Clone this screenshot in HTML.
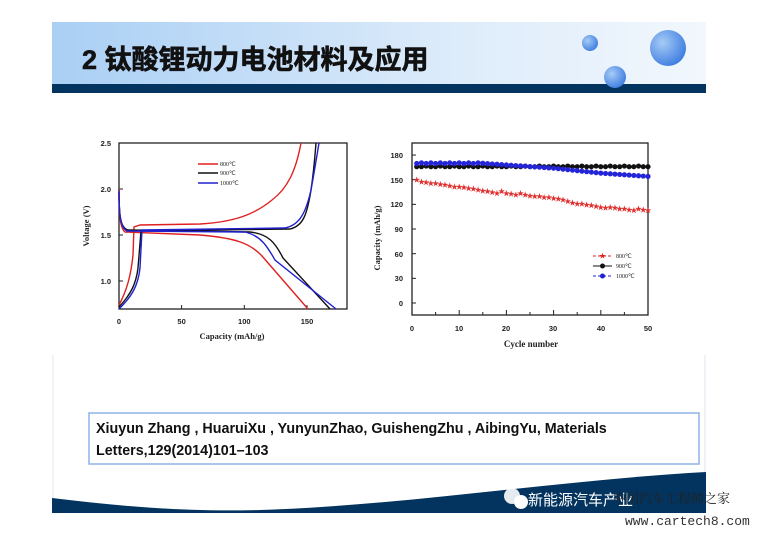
<!DOCTYPE html>
<html><head><meta charset="utf-8"><style>
body{margin:0;width:760px;height:535px;background:#fff;overflow:hidden;position:relative;font-family:"Liberation Sans","Noto Sans CJK SC",sans-serif}
</style></head><body>
<svg width="760" height="535" viewBox="0 0 760 535" xmlns="http://www.w3.org/2000/svg" style="position:absolute;left:0;top:0">
<defs>
<linearGradient id="hg" x1="0" x2="1" y1="0" y2="0"><stop offset="0" stop-color="#a9cff4"/><stop offset="0.6" stop-color="#dcebfa"/><stop offset="1" stop-color="#f2f7fd"/></linearGradient>
<radialGradient id="cg" cx="0.35" cy="0.35" r="0.7"><stop offset="0" stop-color="#a6cbf7"/><stop offset="1" stop-color="#3f7ee0"/></radialGradient>
</defs>
<rect x="52" y="22" width="654" height="63" fill="url(#hg)"/>
<rect x="52" y="84" width="654" height="9" fill="#03345f"/>
<circle cx="590" cy="43" r="8" fill="url(#cg)"/>
<circle cx="668" cy="48" r="18" fill="url(#cg)"/>
<circle cx="615" cy="77" r="11" fill="url(#cg)"/>
<text x="82" y="69" font-size="27" font-weight="bold" fill="#111" stroke="#111" stroke-width="0.6" font-family="Liberation Sans,Noto Sans CJK SC,sans-serif">2 钛酸锂动力电池材料及应用</text>
<line x1="53" y1="355" x2="53" y2="500" stroke="#e3e8ef"/>
<line x1="705" y1="355" x2="705" y2="480" stroke="#dfe6ef"/>

<!-- Left chart -->
<g font-family="Liberation Sans,sans-serif" font-weight="bold" font-size="7.5" fill="#222">
<rect x="119" y="143" width="228" height="166" fill="none" stroke="#222" stroke-width="1.3"/>
<g stroke="#222" stroke-width="1">
<line x1="119" y1="189" x2="123" y2="189"/><line x1="119" y1="235" x2="123" y2="235"/><line x1="119" y1="281" x2="123" y2="281"/>
<line x1="181.6" y1="309" x2="181.6" y2="305"/><line x1="244.3" y1="309" x2="244.3" y2="305"/><line x1="307" y1="309" x2="307" y2="305"/>
</g>
<text x="111" y="146" text-anchor="end">2.5</text><text x="111" y="192" text-anchor="end">2.0</text><text x="111" y="238" text-anchor="end">1.5</text><text x="111" y="284" text-anchor="end">1.0</text>
<text x="119" y="324" text-anchor="middle">0</text><text x="181.6" y="324" text-anchor="middle">50</text><text x="244.3" y="324" text-anchor="middle">100</text><text x="307" y="324" text-anchor="middle">150</text>
<text x="232" y="339" text-anchor="middle" font-family="Liberation Serif,serif" font-size="8.5">Capacity (mAh/g)</text>
<text transform="translate(89,226) rotate(-90)" text-anchor="middle" font-family="Liberation Serif,serif" font-size="8.5">Voltage (V)</text>
</g>
<g fill="none" stroke-width="1.4">
<path d="M119,189 C119,215 120,228 125,232 L200,235 C235,238 250,243 262,256 L308,309" stroke="#e02020"/>
<path d="M119,305 C127,290 131,275 133,255 L134,227 L140,225 L200,224 C235,222 255,214 272,200 C288,188 296,170 301,143" stroke="#e02020"/>
<path d="M119,192 C119,218 121,228 128,230 L250,232 C268,234 275,242 283,258 L330,309" stroke="#111"/>
<path d="M119,307 C130,295 136,285 138,268 L141,231 L290,229 C303,226 307,215 311,190 C314,170 315,155 316,143" stroke="#111"/>
<path d="M119,190 C119,218 121,228 127,231 L245,232 C262,236 268,248 275,260 L336,309" stroke="#2020d0"/>
<path d="M119,309 C131,297 138,287 140,268 L142,230 L285,228 C300,225 306,212 311,190 C315,168 317,155 319,143" stroke="#2020d0"/>
</g>
<g font-family="Liberation Serif,serif" font-size="6" fill="#222">
<line x1="198" y1="164" x2="218" y2="164" stroke="#e02020" stroke-width="1.4"/><text x="220" y="166">800℃</text>
<line x1="198" y1="173" x2="218" y2="173" stroke="#111" stroke-width="1.4"/><text x="220" y="175">900℃</text>
<line x1="198" y1="183" x2="218" y2="183" stroke="#2020d0" stroke-width="1.4"/><text x="220" y="185">1000℃</text>
</g>

<!-- Right chart -->
<g font-family="Liberation Sans,sans-serif" font-weight="bold" font-size="7.5" fill="#222">
<rect x="412" y="143" width="236" height="172" fill="none" stroke="#222" stroke-width="1.3"/>
<g id="rt" stroke="#222" stroke-width="1"></g>
<text x="403" y="158" text-anchor="end">180</text><text x="403" y="183" text-anchor="end">150</text><text x="403" y="207" text-anchor="end">120</text><text x="403" y="232" text-anchor="end">90</text><text x="403" y="257" text-anchor="end">60</text><text x="403" y="281" text-anchor="end">30</text><text x="403" y="306" text-anchor="end">0</text>
<text x="412" y="331" text-anchor="middle">0</text><text x="459" y="331" text-anchor="middle">10</text><text x="506" y="331" text-anchor="middle">20</text><text x="553" y="331" text-anchor="middle">30</text><text x="601" y="331" text-anchor="middle">40</text><text x="648" y="331" text-anchor="middle">50</text>
<text x="531" y="347" text-anchor="middle" font-family="Liberation Serif,serif" font-size="9">Cycle number</text>
<text transform="translate(380,238) rotate(-90)" text-anchor="middle" font-family="Liberation Serif,serif" font-size="8.5">Capacity (mAh/g)</text>
</g>
<g id="pts"></g>
<g font-family="Liberation Serif,serif" font-size="6" fill="#222">
<line x1="593" y1="256" x2="612" y2="256" stroke="#e02020" stroke-dasharray="3,2"/><text x="602.5" y="258.5" text-anchor="middle" fill="#e02020" font-size="8">★</text><text x="616" y="258">800℃</text>
<line x1="593" y1="266" x2="612" y2="266" stroke="#111"/><circle cx="602.5" cy="266" r="2.5" fill="#111"/><text x="616" y="268">900℃</text>
<line x1="593" y1="276" x2="612" y2="276" stroke="#2020d0" stroke-dasharray="3,2"/><circle cx="602.5" cy="276" r="2.5" fill="#2020d0"/><text x="616" y="278">1000℃</text>
</g>

<!-- citation -->
<rect x="89" y="413" width="610" height="51" fill="#fff" stroke="#8fb3e6" stroke-width="1.5"/>
<text x="96" y="433" font-size="14.3" font-weight="bold" fill="#111">Xiuyun Zhang , HuaruiXu , YunyunZhao, GuishengZhu , AibingYu, Materials</text>
<text x="96" y="455" font-size="14.3" font-weight="bold" fill="#111">Letters,129(2014)101–103</text>

<!-- bottom wave -->
<path d="M52,498 C120,506 180,512 260,510 C400,506 560,480 706,472 L706,513 L52,513 Z" fill="#03345f"/>
<circle cx="512" cy="496" r="8" fill="#fff" opacity="0.9"/>
<circle cx="521" cy="502" r="7" fill="#fff"/>
<text x="528" y="505" font-size="15" fill="#fff" font-family="Noto Sans CJK SC,sans-serif">新能源汽车产业</text>
<text x="613" y="503" font-size="13" fill="#222" font-family="Noto Serif CJK SC,serif">中国汽车工程师之家</text>
<text x="625" y="525" font-size="13" fill="#333" font-family="Liberation Mono,monospace">www.cartech8.com</text>
</svg>
<script>
(function(){
var ns="http://www.w3.org/2000/svg",g=document.getElementById('pts'),rt=document.getElementById('rt');
function X(c){return 412+4.72*c}function Y(v){return 303-0.822*v}
function el(n,a,p){var e=document.createElementNS(ns,n);for(var k in a)e.setAttribute(k,a[k]);(p||g).appendChild(e);return e}
for(var i=0;i<=50;i+=5){el('line',{x1:X(i),y1:315,x2:X(i),y2:i%10?312:310},rt)}
for(var v=0;v<=180;v+=30){el('line',{x1:412,y1:Y(v),x2:416,y2:Y(v)},rt)}
var red=[150,148,147,146,146,145,144,143,142,142,141,140,139,138,137,136,135,134,136,134,133,132,134,132,131,130,130,129,129,128,127,126,124,122,121,121,120,119,118,117,116,117,116,115,115,114,113,115,114,113];
for(var c=1;c<=50;c++){
 var b=165.8;
 el('circle',{cx:X(c),cy:Y(b+(c%3?0:0.8)),r:2.6,fill:'#111'});
 var bl=c<15?170.5-(c%2)*0.8:c<30?170-(c-15)*0.4:c<40?164-(c-30)*0.6:158-(c-40)*0.4;
 el('circle',{cx:X(c),cy:Y(bl),r:2.6,fill:'#2424d8'});
}
for(var c=1;c<=50;c++){var t=el('text',{x:X(c),y:Y(red[c-1])+2.5,'font-size':7,'text-anchor':'middle',fill:'#e03030'});t.textContent='★';}
})();
</script>
</body></html>
